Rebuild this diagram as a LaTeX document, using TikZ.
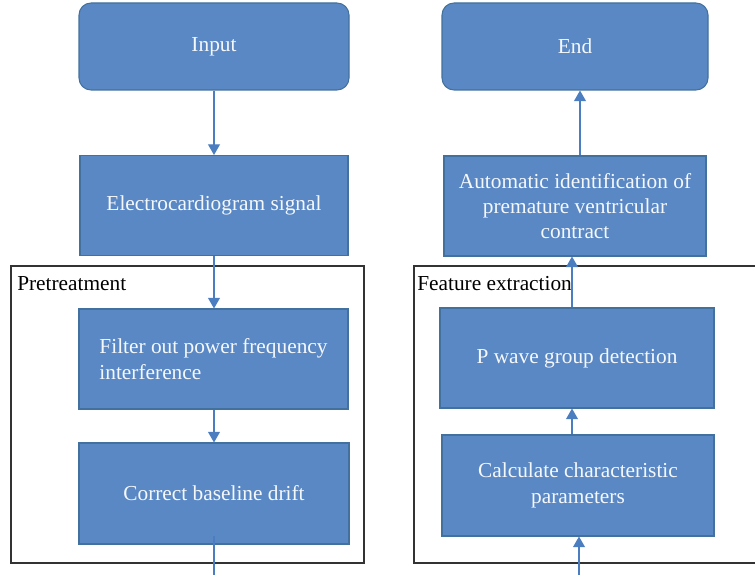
\documentclass[tikz,border=0pt]{standalone}
\usepackage{fontspec}
\setmainfont{Liberation Serif}
\usepackage{tikz}
\usetikzlibrary{positioning, arrows.meta}
\definecolor{boxblue}{HTML}{5A88C5}
\definecolor{boxedge}{HTML}{41719C}
\definecolor{arrowblue}{HTML}{4A7EC1}
\definecolor{framegray}{HTML}{333333}
\tikzset{
    x=0.75pt, y=-0.75pt,
    font=\fontsize{16}{19}\selectfont,
    stepbox/.style={draw=boxedge, fill=boxblue, text=white!94!boxblue, line width=0.8pt, inner sep=2pt, align=center},
    endbox/.style={stepbox, rounded corners=9pt},
    flowarrow/.style={draw=arrowblue, line width=0.8pt, -{Triangle[width=9pt,length=8pt]}},
    flowline/.style={draw=arrowblue, line width=0.8pt},
    groupframe/.style={draw=framegray, line width=1pt},
    grouplabel/.style={text=black, inner sep=0pt, anchor=west}
}

\begin{document}
\begin{tikzpicture}
    \useasboundingbox (0,0) rectangle (755,574);
    % left column
    \node[endbox, minimum width=202.5pt, minimum height=65.25pt] (input) at (214,46.5) {Input};
    \node[stepbox, minimum width=201pt, minimum height=75pt] (ecg) at (214,205.5) {Electrocardiogram signal};
    \draw[groupframe] (11,266) rectangle (364,563);
    \coordinate (pre) at (11,266);
    \node[grouplabel, below right=7.5pt and 4.5pt of pre] (prelabel) {Pretreatment};
    \node[stepbox, align=left, minimum width=201.75pt, minimum height=75pt] (filter) at (213.5,359) {Filter out power frequency\\interference};
    \node[stepbox, minimum width=202.5pt, minimum height=75.75pt] (correct) at (214,493.5) {Correct baseline drift};
    \coordinate (preout) at (214,576);
    \draw[flowarrow] (input.south) -- (input.south |- ecg.north);
    \draw[flowarrow] (ecg.south) -- (ecg.south |- filter.north);
    \draw[flowarrow] (ecg.south |- filter.south) -- (ecg.south |- correct.north);
    \draw[flowline] ([yshift=6.75pt]correct.south) -- (preout);
    % right column
    \node[endbox, minimum width=199.5pt, minimum height=65.25pt] (endn) at (575,46.5) {End};
    \node[stepbox, minimum width=196.5pt, minimum height=75pt] (auto) at (575,206) {Automatic identification of\\premature ventricular\\contract};
    \draw[groupframe] (757,266) -- (414,266) -- (414,563) -- (757,563);
    \coordinate (feat) at (414,266);
    \node[grouplabel, below right=7.75pt and 2.25pt of feat] (featlabel) {Feature extraction};
    \node[stepbox, minimum width=205.5pt, minimum height=75pt] (pwave) at (577,358) {P wave group detection};
    \node[stepbox, minimum width=204pt, minimum height=75.75pt] (calc) at (578,485.5) {Calculate characteristic\\parameters};
    \coordinate (featin) at (579,576);
    \draw[flowarrow] ([xshift=3.75pt]auto.north) -- ([xshift=3.75pt]auto.north |- endn.south);
    \draw[flowarrow] ([xshift=-3.75pt]pwave.north) -- ([xshift=-3.75pt]pwave.north |- auto.south);
    \draw[flowarrow] ([xshift=-4.5pt]calc.north) -- ([xshift=-4.5pt]calc.north |- pwave.south);
    \draw[flowarrow] (featin) -- (featin |- calc.south);
\end{tikzpicture}
\end{document}
